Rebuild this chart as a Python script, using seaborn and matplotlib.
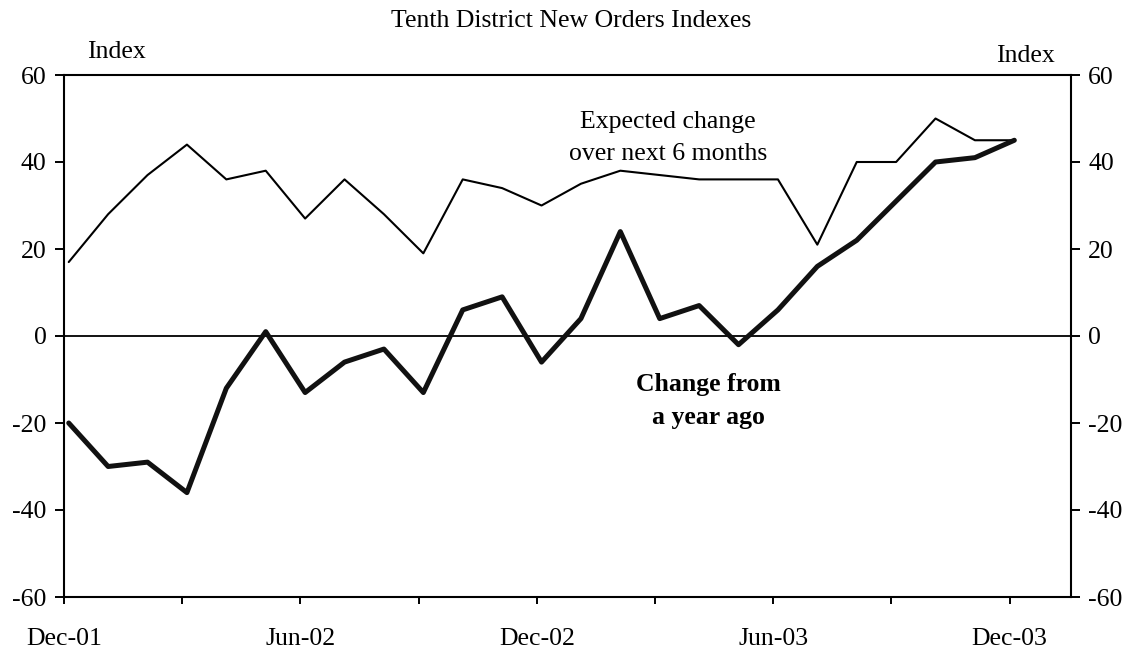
import numpy as np
import pandas as pd
import matplotlib
matplotlib.use("Agg")
import matplotlib.pyplot as plt
import seaborn as sns

# ---- data (monthly, Dec-01 .. Dec-03) ----
month_labels = pd.date_range("2001-12-01", "2003-12-01", freq="MS").strftime("%b-%y").tolist()
expected_change = [17, 28, 37, 44, 36, 38, 27, 36, 28, 19, 36, 34, 30,
                   35, 38, 37, 36, 36, 36, 21, 40, 40, 50, 45, 45]
change_year_ago = [-20, -30, -29, -36, -12, 1, -13, -6, -3, -13, 6, 9, -6,
                   4, 24, 4, 7, -2, 6, 16, 22, 31, 40, 41, 45]
tick_labels = ["Dec-01", "Jun-02", "Dec-02", "Jun-03", "Dec-03"]
y_ticks = [-60, -40, -20, 0, 20, 40, 60]

month_index = np.arange(len(month_labels))
df = pd.DataFrame({
    "pos": month_index + 0.12,
    "expected": expected_change,
    "yoy": change_year_ago,
})

sns.set_theme(style="ticks")
plt.rcParams["font.family"] = ["Liberation Serif", "DejaVu Serif"]
plt.rcParams["text.color"] = "black"
plt.rcParams["xtick.color"] = "black"
plt.rcParams["ytick.color"] = "black"
plt.rcParams["xtick.labelcolor"] = "black"
plt.rcParams["ytick.labelcolor"] = "black"
FS = 18.5

fig = plt.figure(figsize=(11.3, 6.55), dpi=100)
ax = fig.add_axes([64 / 1130, 1 - 597 / 655, (1071 - 64) / 1130, (597 - 75) / 655])

ax.axhline(0, color="black", lw=1.3, zorder=1)
sns.lineplot(data=df, x="pos", y="expected", ax=ax, color="black", lw=1.5, zorder=3)
sns.lineplot(data=df, x="pos", y="yoy", ax=ax, color="#111111", lw=3.6, zorder=4)

ax.set_xlim(0, (1071 - 64) / 39.4)
ax.set_ylim(-60, 60)
ax.set_xlabel("")
ax.set_ylabel("")

ax.set_xticks(month_index[::6])
ax.set_xticklabels(tick_labels)
ax.set_xticks(month_index[3::6], minor=True)
ax.set_yticks(y_ticks)
ax.set_yticklabels([str(v) for v in y_ticks])

ax.yaxis.set_ticks_position("both")
ax.tick_params(axis="y", which="major", direction="out", length=6.5, width=1.4,
               labelsize=FS, pad=6, labelright=True, colors="black")
ax.tick_params(axis="x", which="both", direction="out", length=5, width=1.4,
               labelsize=FS, pad=17, colors="black")

for side in ["left", "right", "top", "bottom"]:
    ax.spines[side].set_visible(True)
    ax.spines[side].set_linewidth(1.5)
    ax.spines[side].set_color("black")

fig.text(571 / 1130, 1 - 21 / 655, "Tenth District New Orders Indexes",
         ha="center", va="center", fontsize=FS, color="black")
fig.text(116 / 1130, 1 - 52 / 655, "Index", ha="center", va="center",
         fontsize=FS, color="black")
fig.text(1025 / 1130, 1 - 56 / 655, "Index", ha="center", va="center",
         fontsize=FS, color="black")
fig.text(668 / 1130, 1 - 138 / 655, "Expected change\nover next 6 months",
         ha="center", va="center", fontsize=FS, linespacing=1.55, color="black")
fig.text(708 / 1130, 1 - 401 / 655, "Change from\na year ago",
         ha="center", va="center", fontsize=FS, fontweight="bold",
         linespacing=1.55, color="black")

fig.savefig("out.png", dpi=100, facecolor="white")
